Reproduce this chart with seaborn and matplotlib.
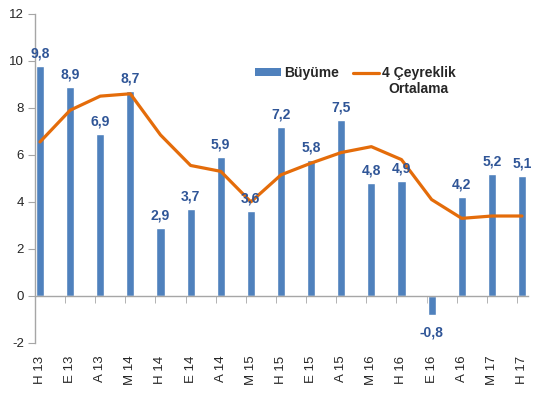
import numpy as np
import matplotlib
matplotlib.use('Agg')
import matplotlib.pyplot as plt
import pandas as pd
import seaborn as sns
from matplotlib.patches import Patch
from matplotlib.lines import Line2D
from matplotlib.ticker import FixedLocator

# quarters on the x axis
ceyrekler = ['H 13', 'E 13', 'A 13', 'M 14', 'H 14', 'E 14', 'A 14', 'M 15', 'H 15',
             'E 15', 'A 15', 'M 16', 'H 16', 'E 16', 'A 16', 'M 17', 'H 17']

# growth (bars)
buyume = [9.8, 8.9, 6.9, 8.7, 2.9, 3.7, 5.9, 3.6, 7.2,
          5.8, 7.5, 4.8, 4.9, -0.8, 4.2, 5.2, 5.1]

# 4 quarter average (line)
ortalama = [6.55, 7.9, 8.5, 8.6, 6.85, 5.55, 5.3, 4.0, 5.15,
            5.65, 6.1, 6.35, 5.8, 4.1, 3.3, 3.4, 3.4]

data = pd.DataFrame({'ceyrek': ceyrekler, 'buyume': buyume, 'ortalama': ortalama})

bar_renk = '#4F81BD'
cizgi_renk = '#E46C0A'
etiket_renk = '#2F5597'

sns.set_style('white')
plt.rcParams['font.family'] = ['Liberation Sans', 'DejaVu Sans']
plt.rcParams['axes.unicode_minus'] = False

fig = plt.figure(figsize=(5.5, 3.96), dpi=100)
ax = fig.add_axes([0.0636, 0.134, 0.8964, 0.831])

sns.barplot(data=data, x='ceyrek', y='buyume', color=bar_renk, width=0.27,
            saturation=1, ax=ax)
sns.lineplot(data=data, x='ceyrek', y='ortalama', color=cizgi_renk, linewidth=2.3,
             sort=False, ax=ax)

# value labels on bars
etiketler = [f'{v:.1f}'.replace('.', ',') for v in buyume]
yazilar = ax.bar_label(ax.containers[0], labels=etiketler, padding=4, fontsize=10,
                       fontweight='bold', color=etiket_renk)
for v, y in zip(buyume, yazilar):
    if v < 0:
        y.xyann = (0, -8)

ax.set_ylim(-2, 12)
ax.set_yticks(range(-2, 13, 2))
ax.set_xlim(-0.166, 16.2)
ax.set_xlabel('')
ax.set_ylabel('')

# spines like the excel chart
sns.despine(ax=ax)
ax.spines['bottom'].set_position(('data', 0))
for s in ['left', 'bottom']:
    ax.spines[s].set_color('#A6A6A6')
    ax.spines[s].set_linewidth(1.0)

ax.tick_params(axis='y', length=5, color='#A6A6A6', labelsize=9.5, pad=3, left=True)
ax.xaxis.set_minor_locator(FixedLocator(np.arange(len(ceyrekler)) - 0.166))
ax.tick_params(axis='x', which='minor', length=5, color='#A6A6A6', bottom=True)
ax.tick_params(axis='x', which='major', length=0, labelsize=9.5, pad=43,
               labelrotation=90)
for t in ax.get_xticklabels():
    t.set_va('top')

# legend
tutamaclar = [Patch(facecolor=bar_renk, edgecolor='none'),
              Line2D([0], [0], color=cizgi_renk, linewidth=2.3)]
leg = ax.legend(tutamaclar, ['Büyüme', '4 Çeyreklik'], ncol=2,
                loc='upper left', bbox_to_anchor=(0.446, 0.841), frameon=False,
                prop={'weight': 'bold', 'size': 10}, handlelength=1.9,
                handleheight=0.55, handletextpad=0.2, columnspacing=1.0,
                borderpad=0, borderaxespad=0)
# second line of the line label, centred under the first
ax.annotate('Ortalama', xy=(0.5, 0), xycoords=leg.get_texts()[1],
            xytext=(0, -1), textcoords='offset points', ha='center', va='top',
            fontsize=10, fontweight='bold', zorder=6)

fig.savefig('out.png', dpi=100)
